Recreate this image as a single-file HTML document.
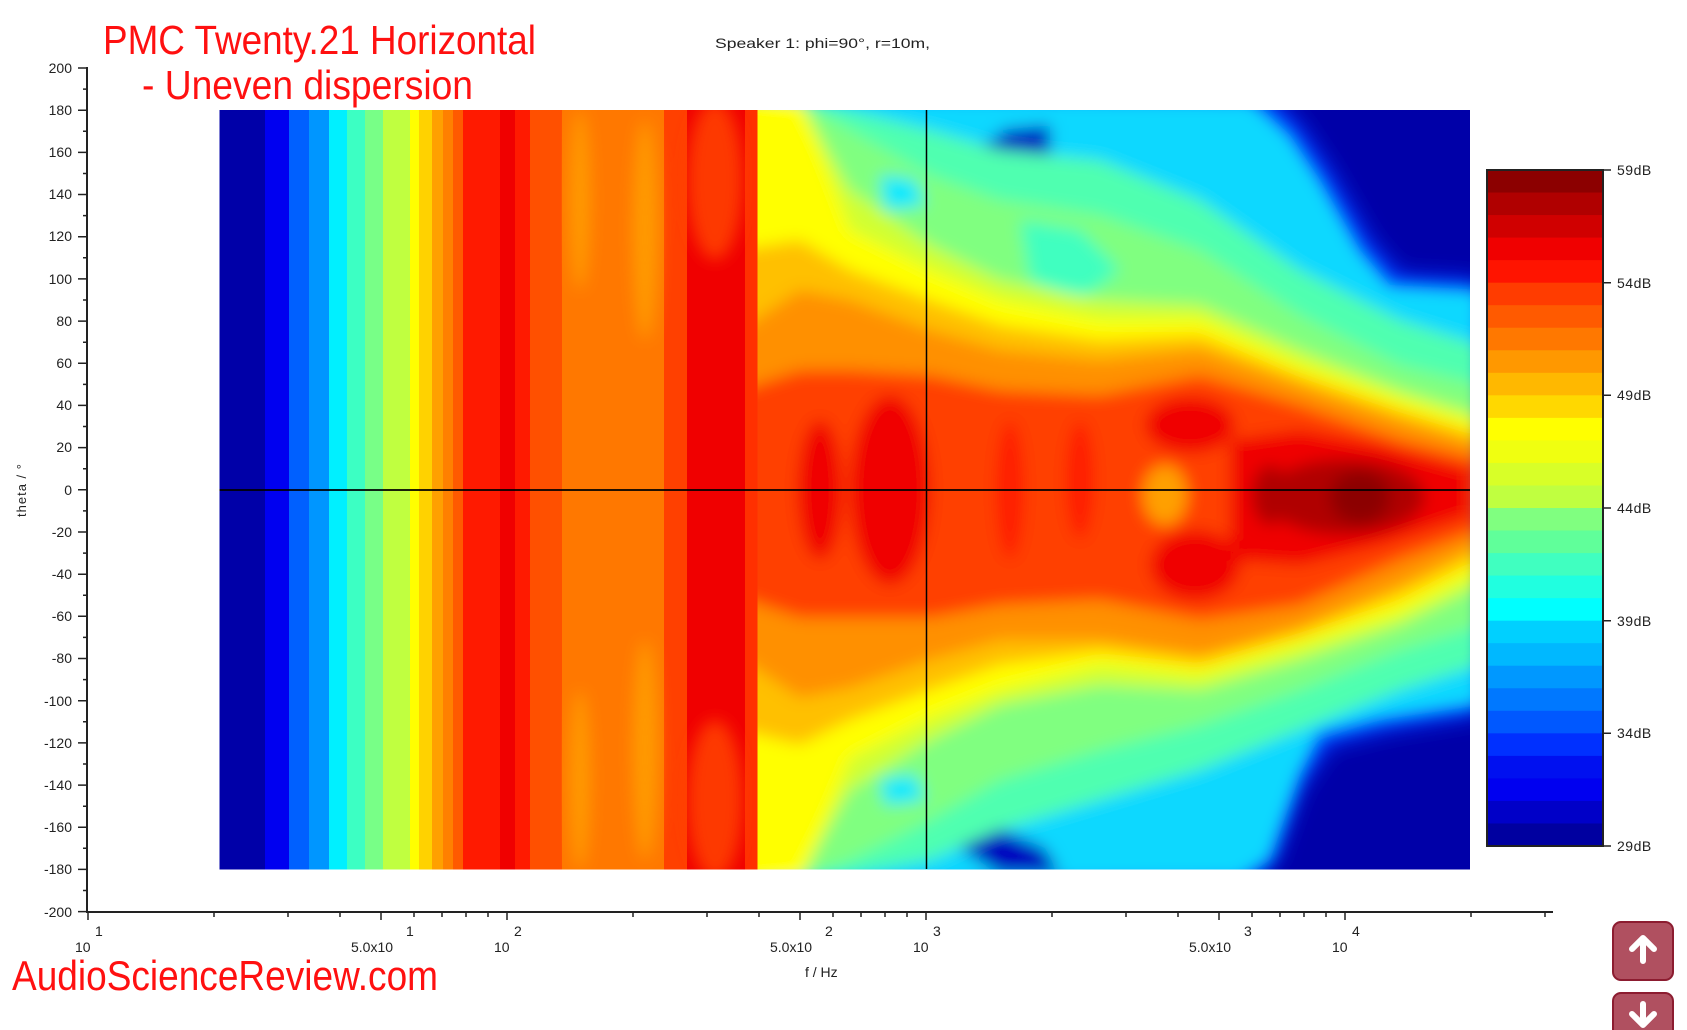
<!DOCTYPE html>
<html><head><meta charset="utf-8"><style>
html,body{margin:0;padding:0;background:#fff;}
svg{display:block;font-family:"Liberation Sans",sans-serif;}
</style></head><body>
<svg width="1687" height="1030" viewBox="0 0 1687 1030" xmlns="http://www.w3.org/2000/svg">
<defs>
<clipPath id="pc"><rect x="219.5" y="110" width="1250.5" height="759.5"/></clipPath>
<filter id="bl" x="-5%" y="-5%" width="110%" height="110%"><feGaussianBlur stdDeviation="8"/></filter>
<filter id="bl2"><feGaussianBlur stdDeviation="11"/></filter>
<linearGradient id="lf" gradientUnits="userSpaceOnUse" x1="219" y1="0" x2="779" y2="0">
<stop offset="0" stop-color="#0000a8"/><stop offset=".0821" stop-color="#0000a8"/>
<stop offset=".0821" stop-color="#0000f0"/><stop offset=".125" stop-color="#0000f0"/>
<stop offset=".125" stop-color="#0060ff"/><stop offset=".1607" stop-color="#0060ff"/>
<stop offset=".1607" stop-color="#0096ff"/><stop offset=".1964" stop-color="#0096ff"/>
<stop offset=".1964" stop-color="#00f0ff"/><stop offset=".2286" stop-color="#00f0ff"/>
<stop offset=".2286" stop-color="#3cffc3"/><stop offset=".2607" stop-color="#3cffc3"/>
<stop offset=".2607" stop-color="#78ff87"/><stop offset=".2929" stop-color="#78ff87"/>
<stop offset=".2929" stop-color="#c0ff40"/><stop offset=".3411" stop-color="#c0ff40"/>
<stop offset=".3411" stop-color="#ffff00"/><stop offset=".3571" stop-color="#ffff00"/>
<stop offset=".3571" stop-color="#ffd200"/><stop offset=".3804" stop-color="#ffd200"/>
<stop offset=".3804" stop-color="#ffa000"/><stop offset=".4" stop-color="#ffa000"/>
<stop offset=".4" stop-color="#ff8000"/><stop offset=".4179" stop-color="#ff8000"/>
<stop offset=".4179" stop-color="#ff5a00"/><stop offset=".4357" stop-color="#ff5a00"/>
<stop offset=".4357" stop-color="#ff1a00"/><stop offset=".5018" stop-color="#ff1a00"/>
<stop offset=".5018" stop-color="#f00000"/><stop offset=".5286" stop-color="#f00000"/>
<stop offset=".5286" stop-color="#ff1a00"/><stop offset=".5554" stop-color="#ff1a00"/>
<stop offset=".5554" stop-color="#ff5000"/><stop offset=".6125" stop-color="#ff5000"/>
<stop offset=".6125" stop-color="#ff7800"/><stop offset=".7946" stop-color="#ff7800"/>
<stop offset=".7946" stop-color="#ff4000"/><stop offset=".8357" stop-color="#ff4000"/>
<stop offset=".8357" stop-color="#f00000"/><stop offset=".9393" stop-color="#f00000"/>
<stop offset=".9393" stop-color="#ff3000"/><stop offset=".9625" stop-color="#ff3000"/>
<stop offset=".9625" stop-color="#ff4800"/><stop offset="1" stop-color="#ff4800"/>
</linearGradient>
</defs>

<g clip-path="url(#pc)">
<rect x="219" y="100" width="1260" height="780" fill="#0000a8"/>
<g filter="url(#bl2)">
<polygon fill="#0040ff" points="740,95 1270,95 1300,125 1330,170 1370,240 1400,275 1480,280 1480,715 1390,730 1330,745 1300,790 1275,860 1250,885 740,885"/>
</g>
<g filter="url(#bl)">
<polygon fill="#10d8ff" points="740,95 1250,100 1265,112 1290,135 1320,180 1360,250 1390,285 1480,290 1480,705 1380,720 1320,735 1300,775 1270,860 1240,880 740,885"/>
<polygon fill="#0000c0" points="950,165 990,140 1030,128 1045,150 1000,175 955,188"/>
<polygon fill="#0000c0" points="1000,130 1050,125 1050,180 1010,175"/>
<polygon fill="#0000c0" points="935,795 990,825 1045,848 1060,875 1000,875 940,835"/>
<polygon fill="#0030f0" points="1395,650 1430,590 1445,600 1410,660"/>
<polygon fill="#50ffb0" points="740,95 800,100 850,110 930,130 1000,150 1100,160 1200,200 1300,270 1400,320 1480,345 1480,665 1400,690 1300,730 1200,770 1100,800 1000,830 930,860 850,875 740,885"/>
<polygon fill="#80ff80" points="740,95 800,100 850,130 930,175 1000,200 1100,215 1200,250 1300,315 1400,365 1480,385 1480,625 1400,650 1300,690 1200,725 1100,750 1000,780 930,820 850,860 800,880 740,885"/>
<polygon fill="#40ffc0" points="1020,220 1080,230 1120,270 1080,300 1030,280"/>
<polygon fill="#00e8ff" points="880,175 915,180 925,205 885,210"/>
<polygon fill="#00e8ff" points="880,780 915,775 925,800 885,805"/>
<polygon fill="#d0ff30" points="740,95 800,100 850,190 930,245 1000,280 1100,300 1200,305 1300,350 1400,390 1480,415 1480,585 1400,625 1300,660 1200,690 1100,685 1000,705 930,740 850,790 800,880 740,885"/>
<polygon fill="#ffff00" points="740,95 800,100 850,230 930,270 1000,300 1100,320 1200,320 1300,365 1400,400 1480,425 1480,570 1400,612 1300,645 1200,675 1100,665 1000,690 930,718 850,758 800,880 740,885"/>
<polygon fill="#ffc000" points="740,250 800,240 850,270 930,300 1000,325 1100,340 1200,335 1300,375 1400,410 1480,435 1480,558 1400,598 1300,636 1200,665 1100,652 1000,665 930,690 850,720 800,745 740,730"/>
<polygon fill="#ff9000" points="740,330 800,290 850,300 930,330 1000,350 1100,360 1200,350 1300,385 1400,420 1480,445 1480,545 1400,585 1300,628 1200,655 1100,640 1000,640 930,660 850,688 800,698 740,658"/>
<polygon fill="#ff4000" points="740,390 800,370 850,370 930,375 1000,390 1100,395 1200,375 1300,405 1400,440 1480,460 1480,530 1400,560 1300,605 1200,620 1100,600 1000,605 930,618 850,618 800,618 740,598"/>
<ellipse fill="#f00000" cx="890" cy="490" rx="40" ry="95"/>
<ellipse fill="#f00000" cx="820" cy="490" rx="22" ry="70"/>
<ellipse fill="#ff1a00" cx="1010" cy="490" rx="14" ry="70"/>
<ellipse fill="#ff1a00" cx="1080" cy="480" rx="14" ry="60"/>
<ellipse fill="#f00000" cx="1190" cy="425" rx="45" ry="28"/>
<ellipse fill="#f00000" cx="1195" cy="565" rx="45" ry="35"/>
<polygon fill="#f00000" points="1230,440 1300,430 1380,445 1470,470 1470,515 1380,545 1300,565 1230,560"/>
<ellipse fill="#ffa000" cx="1165" cy="495" rx="22" ry="30"/>
<ellipse fill="#b00000" cx="1345" cy="497" rx="80" ry="38"/>
<ellipse fill="#b00000" cx="1270" cy="495" rx="18" ry="30"/>
<ellipse fill="#8c0000" cx="1360" cy="497" rx="30" ry="26"/>
</g>
<rect x="219.5" y="110" width="538" height="760" fill="url(#lf)"/>
<g filter="url(#bl)" opacity="0.9">
<ellipse fill="#ffa000" cx="580" cy="200" rx="10" ry="90"/>
<ellipse fill="#ffa000" cx="645" cy="230" rx="12" ry="110"/>
<ellipse fill="#ffa000" cx="580" cy="780" rx="10" ry="90"/>
<ellipse fill="#ffa000" cx="645" cy="750" rx="12" ry="110"/>
<ellipse fill="#ff4000" cx="715" cy="180" rx="28" ry="80"/>
<ellipse fill="#ff4000" cx="715" cy="800" rx="28" ry="80"/>
</g>
</g>
<line x1="926.5" y1="110" x2="926.5" y2="869" stroke="#000" stroke-width="1.5"/>
<line x1="219.5" y1="490" x2="1470" y2="490" stroke="#000" stroke-width="1.8"/>

<g stroke="#222" stroke-width="2" fill="none">
<line x1="87" y1="67" x2="87" y2="912"/>
<line x1="86" y1="912" x2="1553" y2="912"/>
</g>
<g stroke="#222" stroke-width="1.5">
<path d="M78 68H87M78 110.2H87M78 152.4H87M78 194.5H87M78 236.7H87M78 278.9H87M78 321.1H87M78 363.3H87M78 405.4H87M78 447.6H87M78 489.8H87M78 532H87M78 574.2H87M78 616.3H87M78 658.5H87M78 700.7H87M78 742.9H87M78 785.1H87M78 827.2H87M78 869.4H87M78 911.6H87"/>
<path d="M83 89.1H87M83 131.3H87M83 173.5H87M83 215.6H87M83 257.8H87M83 300H87M83 342.2H87M83 384.4H87M83 426.5H87M83 468.7H87M83 510.9H87M83 553.1H87M83 595.3H87M83 637.4H87M83 679.6H87M83 721.8H87M83 764H87M83 806.2H87M83 848.3H87M83 890.5H87"/>
<path d="M88 912v8M507 912v8M926 912v8M1345 912v8M381 912v8M800 912v8M1219 912v8"/>
<path d="M214 912v5M288 912v5M340 912v5M414 912v5M442 912v5M466 912v5M488 912v5M633 912v5M707 912v5M759 912v5M833 912v5M861 912v5M885 912v5M907 912v5M1052 912v5M1126 912v5M1178 912v5M1252 912v5M1280 912v5M1304 912v5M1326 912v5M1471 912v5M1545 912v5"/>
</g>
<g font-size="14" fill="#222" text-anchor="end">
<text x="72" y="73">200</text><text x="72" y="115">180</text><text x="72" y="157">160</text><text x="72" y="199">140</text><text x="72" y="241">120</text><text x="72" y="284">100</text><text x="72" y="326">80</text><text x="72" y="368">60</text><text x="72" y="410">40</text><text x="72" y="452">20</text><text x="72" y="495">0</text><text x="72" y="537">-20</text><text x="72" y="579">-40</text><text x="72" y="621">-60</text><text x="72" y="663">-80</text><text x="72" y="706">-100</text><text x="72" y="748">-120</text><text x="72" y="790">-140</text><text x="72" y="832">-160</text><text x="72" y="874">-180</text><text x="72" y="917">-200</text>
</g>
<text transform="translate(26,490) rotate(-90)" font-size="13" fill="#222" text-anchor="middle" letter-spacing="1">theta / °</text>
<g font-size="14" fill="#222">
<text x="75" y="952">10</text><text x="95" y="936">1</text>
<text x="494" y="952">10</text><text x="514" y="936">2</text>
<text x="913" y="952">10</text><text x="933" y="936">3</text>
<text x="1332" y="952">10</text><text x="1352" y="936">4</text>
<text x="351" y="952">5.0x10</text><text x="406" y="936">1</text>
<text x="770" y="952">5.0x10</text><text x="825" y="936">2</text>
<text x="1189" y="952">5.0x10</text><text x="1244" y="936">3</text>
<text x="805" y="977">f / Hz</text>
</g>

<g>
<rect x="1487" y="170" width="116" height="23" fill="#8c0000"/>
<rect x="1487" y="192.53" width="116" height="23" fill="#b00000"/>
<rect x="1487" y="215.07" width="116" height="23" fill="#d00000"/>
<rect x="1487" y="237.6" width="116" height="23" fill="#f00000"/>
<rect x="1487" y="260.13" width="116" height="23" fill="#ff1400"/>
<rect x="1487" y="282.67" width="116" height="23" fill="#ff3c00"/>
<rect x="1487" y="305.2" width="116" height="23" fill="#ff5a00"/>
<rect x="1487" y="327.73" width="116" height="23" fill="#ff7800"/>
<rect x="1487" y="350.27" width="116" height="23" fill="#ff9800"/>
<rect x="1487" y="372.8" width="116" height="23" fill="#ffb800"/>
<rect x="1487" y="395.33" width="116" height="23" fill="#ffd800"/>
<rect x="1487" y="417.87" width="116" height="23" fill="#ffff00"/>
<rect x="1487" y="440.4" width="116" height="23" fill="#f0ff10"/>
<rect x="1487" y="462.93" width="116" height="23" fill="#d8ff28"/>
<rect x="1487" y="485.47" width="116" height="23" fill="#c0ff40"/>
<rect x="1487" y="508" width="116" height="23" fill="#80ff80"/>
<rect x="1487" y="530.53" width="116" height="23" fill="#60ff9a"/>
<rect x="1487" y="553.07" width="116" height="23" fill="#40ffc0"/>
<rect x="1487" y="575.6" width="116" height="23" fill="#20ffe0"/>
<rect x="1487" y="598.13" width="116" height="23" fill="#00ffff"/>
<rect x="1487" y="620.67" width="116" height="23" fill="#00d0ff"/>
<rect x="1487" y="643.2" width="116" height="23" fill="#00b8ff"/>
<rect x="1487" y="665.73" width="116" height="23" fill="#0098ff"/>
<rect x="1487" y="688.27" width="116" height="23" fill="#0078ff"/>
<rect x="1487" y="710.8" width="116" height="23" fill="#0058ff"/>
<rect x="1487" y="733.33" width="116" height="23" fill="#0030ff"/>
<rect x="1487" y="755.87" width="116" height="23" fill="#0010f0"/>
<rect x="1487" y="778.4" width="116" height="23" fill="#0000f0"/>
<rect x="1487" y="800.93" width="116" height="23" fill="#0000c8"/>
<rect x="1487" y="823.47" width="116" height="22.53" fill="#0000a0"/>
<rect x="1487" y="170" width="116" height="676" fill="none" stroke="#222" stroke-width="2"/>
<path d="M1603 170h8M1603 282.7h8M1603 395.3h8M1603 508h8M1603 620.7h8M1603 733.3h8M1603 846h8" stroke="#222" stroke-width="1.5"/>
<g font-size="14" fill="#222" letter-spacing="0.5">
<text x="1617" y="175">59dB</text><text x="1617" y="288">54dB</text><text x="1617" y="400">49dB</text><text x="1617" y="513">44dB</text><text x="1617" y="626">39dB</text><text x="1617" y="738">34dB</text><text x="1617" y="851">29dB</text>
</g>
</g>

<text x="103" y="54" font-size="41" fill="#ff1010" textLength="433" lengthAdjust="spacingAndGlyphs">PMC Twenty.21 Horizontal</text>
<text x="142" y="99" font-size="41" fill="#ff1010" textLength="331" lengthAdjust="spacingAndGlyphs">- Uneven dispersion</text>
<text x="715" y="48" font-size="14" fill="#222" textLength="215" lengthAdjust="spacingAndGlyphs">Speaker 1: phi=90°, r=10m,</text>
<text x="12" y="990" font-size="42" fill="#ff1010" textLength="426" lengthAdjust="spacingAndGlyphs">AudioScienceReview.com</text>

<rect x="1613" y="922" width="60" height="58" rx="8" fill="#b05060" stroke="#8c1c30" stroke-width="2"/>
<path d="M1643 938l-11 11M1643 938l11 11M1643 939v22" stroke="#fff" stroke-width="6" stroke-linecap="round" fill="none"/>
<rect x="1613" y="993" width="60" height="58" rx="8" fill="#b05060" stroke="#8c1c30" stroke-width="2"/>
<path d="M1643 1025l-11 -11M1643 1025l11 -11M1643 1024v-20" stroke="#fff" stroke-width="6" stroke-linecap="round" fill="none"/>
</svg>
</body></html>
